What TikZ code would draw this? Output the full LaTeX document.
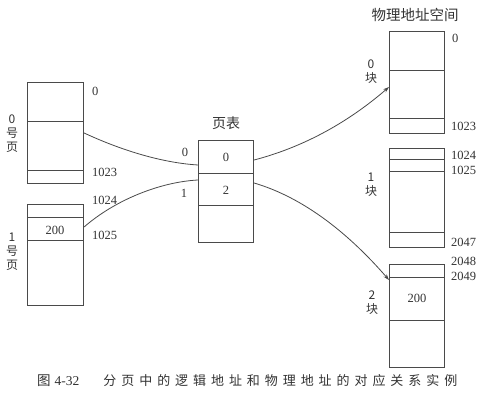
\documentclass[tikz,border=0pt]{standalone}
\usepackage{fontspec}
\setmainfont{Liberation Serif}
\newfontfamily\cjk{Noto Sans CJK SC}
\usetikzlibrary{arrows.meta}
\definecolor{linec}{HTML}{4A4A4A}
\definecolor{textc}{HTML}{333333}
\begin{document}
\begin{tikzpicture}[x=1pt,y=-1pt,
  membox/.style={draw=linec, line width=1.1pt, minimum width=56pt, inner sep=0pt, anchor=north west},
  divline/.style={draw=linec, line width=1.0pt},
  num/.style={text=textc, font=\fontsize{12.5}{13}\selectfont, inner sep=0pt},
  cn/.style={text=textc, font=\cjk\fontsize{12}{14}\selectfont, inner sep=0pt, align=center},
  link/.style={draw=linec, line width=0.8pt},
  arr/.style={link, -{Stealth[length=6pt,width=4pt]}}]
\useasboundingbox (0,0) rectangle (490,406);
\fill[white] (0,0) rectangle (490,406);

% logical pages
\node[membox, minimum height=101pt] (p0) at (27,82) {};
\node[membox, minimum height=101pt] (p1) at (27,204) {};
\draw[divline] (27,122) -- (83,122);
\draw[divline] (27,171) -- (83,171);
\draw[divline] (27,218) -- (83,218);
\draw[divline] (27,241) -- (83,241);
\node[num] (v200a) at (55,230) {200};

\node[num, anchor=west] (l0) at (92,91) {0};
\node[num, anchor=west] (l1023) at (92,172) {1023};
\node[num, anchor=west] (l1024) at (92,200) {1024};
\node[num, anchor=west] (l1025) at (92,235) {1025};

\node[cn] (pg0) at (12,134) {0\\号\\页};
\node[cn] (pg1) at (12,252) {1\\号\\页};

% page table
\node[cn, font=\cjk\fontsize{14}{14}\selectfont] (pttitle) at (226,123) {页表};
\node[membox, minimum width=55pt, minimum height=102pt] (pt) at (198,140) {};
\draw[divline] (198,174) -- (253,174);
\draw[divline] (198,206) -- (253,206);
\node[num] (pt0) at (226,157) {0};
\node[num] (pt2) at (226,190) {2};
\node[num] (ptl0) at (185,152) {0};
\node[num] (ptl1) at (184,193) {1};

% physical memory
\node[cn, font=\cjk\fontsize{14.5}{15}\selectfont] (phtitle) at (415,15) {物理地址空间};
\node[membox, minimum width=55pt, minimum height=102pt] (b0) at (389,31) {};
\node[membox, minimum width=55pt, minimum height=99pt] (b1) at (389,148) {};
\node[membox, minimum width=55pt, minimum height=103pt] (b2) at (389,264) {};
\draw[divline] (389,71) -- (444,71);
\draw[divline] (389,119) -- (444,119);
\draw[divline] (389,160) -- (444,160);
\draw[divline] (389,172) -- (444,172);
\draw[divline] (389,233) -- (444,233);
\draw[divline] (389,277) -- (444,277);
\draw[divline] (389,320) -- (444,320);
\node[num] (v200b) at (417,298) {200};

\node[num, anchor=west] (r0) at (452,38) {0};
\node[num, anchor=west] (r1023) at (451,126) {1023};
\node[num, anchor=west] (r1024) at (451,155) {1024};
\node[num, anchor=west] (r1025) at (451,170) {1025};
\node[num, anchor=west] (r2047) at (451,242) {2047};
\node[num, anchor=west] (r2048) at (451,261) {2048};
\node[num, anchor=west] (r2049) at (451,276) {2049};

\node[cn] (bk0) at (371,72) {0\\块};
\node[cn] (bk1) at (371,185) {1\\块};
\node[cn] (bk2) at (372,303) {2\\块};

% connectors
\coordinate (p0out) at (p0.east |- 0,133);
\coordinate (p1out) at (p1.east |- 0,227);
\coordinate (pt0in) at (pt.west |- 0,165);
\coordinate (pt1in) at (pt.west |- 0,180);
\coordinate (pt0out) at (pt.east |- 0,160);
\coordinate (pt1out) at (pt.east |- 0,183);
\coordinate (b0in) at (b0.west |- 0,87);
\coordinate (b2in) at (b2.west |- 0,280);
\draw[link] (p0out) .. controls (125,152) and (165,163) .. (pt0in);
\draw[link] (p1out) .. controls (115,200) and (160,182) .. (pt1in);
\draw[arr] (pt0out) .. controls (300,148) and (345,125) .. (b0in);
\draw[arr] (pt1out) .. controls (305,198) and (350,235) .. (b2in);

% caption
\node[text=textc, anchor=west, inner sep=0pt, font=\fontsize{13.5}{14}\selectfont] (cap) at (37,381)
  {{\cjk 图}\hspace{4pt}4-32\hspace{24pt}{\cjk\fontsize{13}{14}\selectfont\addfontfeature{LetterSpace=38}分页中的逻辑地址和物理地址的对应关系实例}};
\end{tikzpicture}
\end{document}
